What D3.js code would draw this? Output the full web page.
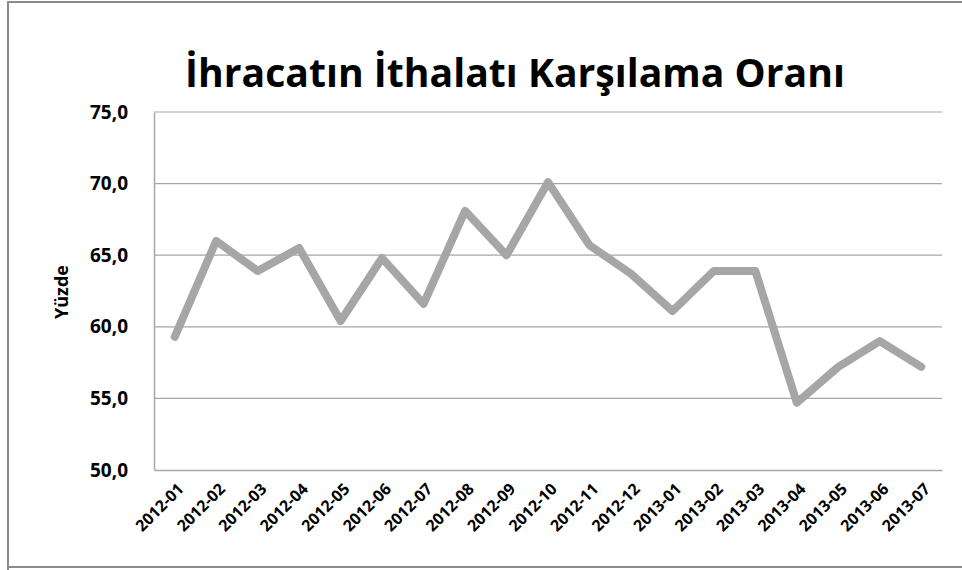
<!DOCTYPE html>
<html><head><meta charset="utf-8">
<script src="https://cdnjs.cloudflare.com/ajax/libs/d3/7.8.5/d3.min.js"></script>
<style>body{margin:0;background:#fff;}svg{display:block;}</style>
</head><body>
<script>
const categories = ["2012-01","2012-02","2012-03","2012-04","2012-05","2012-06","2012-07","2012-08","2012-09","2012-10","2012-11","2012-12","2013-01","2013-02","2013-03","2013-04","2013-05","2013-06","2013-07"];
const values = [59.3,66.0,63.9,65.5,60.4,64.8,61.6,68.1,65.0,70.1,65.7,63.7,61.1,63.9,63.9,54.7,57.2,59.0,57.2];
const yTicks = [50,55,60,65,70,75];
const title = "İhracatın İthalatı Karşılama Oranı";
const yLabel = "Yüzde";

const W = 962, H = 570;
const svg = d3.select("body").append("svg").attr("width", W).attr("height", H);
svg.append("rect").attr("width", W).attr("height", H).attr("fill", "#fff");
// outer border
svg.append("path").attr("d", "M8,570 V2 H962 M8,567 H962").attr("fill","none").attr("stroke","#8a8a8a").attr("stroke-width",2);

const L = 154, R = 942, T = 112, B = 470;
const x = d3.scaleBand().domain(categories).range([L, R]);
const y = d3.scaleLinear().domain([50, 75]).range([B, T]);

const tt = svg.append("text").attr("x", 515).attr("y", 87).attr("text-anchor","middle")
  .attr("font-family","'Open Sans', sans-serif").attr("font-weight","bold").attr("font-size",46)
  .attr("fill","#000").text(title);
const tw = tt.node().getComputedTextLength();
tt.attr("font-size", Math.min(48, 46 * 660 / tw));

// gridlines
svg.append("g").selectAll("line").data(yTicks.filter(d=>d>50)).join("line")
  .attr("x1", L).attr("x2", R).attr("y1", d=>y(d)).attr("y2", d=>y(d))
  .attr("stroke","#a6a6a6").attr("stroke-width",1.2);

// y axis
const ya = svg.append("g").attr("transform",`translate(${L},0)`)
  .call(d3.axisLeft(y).tickValues(yTicks).tickSize(0).tickPadding(26).tickFormat(d=>d3.format(".1f")(d).replace(".",",")));
ya.select(".domain").attr("stroke","#a6a6a6").attr("stroke-width",1.5);
ya.selectAll("text").attr("font-family","'Open Sans', sans-serif").attr("font-weight","bold").attr("font-size",19).attr("fill","#000");

// x axis
const xa = svg.append("g").attr("transform",`translate(0,${B})`)
  .call(d3.axisBottom(x).tickSize(0).tickPadding(0));
xa.select(".domain").attr("stroke","#a6a6a6").attr("stroke-width",1.5);
xa.selectAll("text").attr("font-family","'Open Sans', sans-serif").attr("font-weight","bold").attr("font-size",16).attr("fill","#000")
  .attr("text-anchor","end").attr("dy",0).attr("transform","translate(10,20) rotate(-45)");

svg.append("text").attr("transform","translate(68,292) rotate(-90)").attr("text-anchor","middle")
  .attr("font-family","'Open Sans', sans-serif").attr("font-weight","bold").attr("font-size",18).attr("fill","#000").text(yLabel);

const line = d3.line().x((d,i)=>x(categories[i]) + x.bandwidth()/2).y(d=>y(d));
svg.append("path").datum(values).attr("d", line).attr("fill","none")
  .attr("stroke","#a6a6a6").attr("stroke-width",8).attr("stroke-linejoin","round").attr("stroke-linecap","round");
</script>
</body></html>
